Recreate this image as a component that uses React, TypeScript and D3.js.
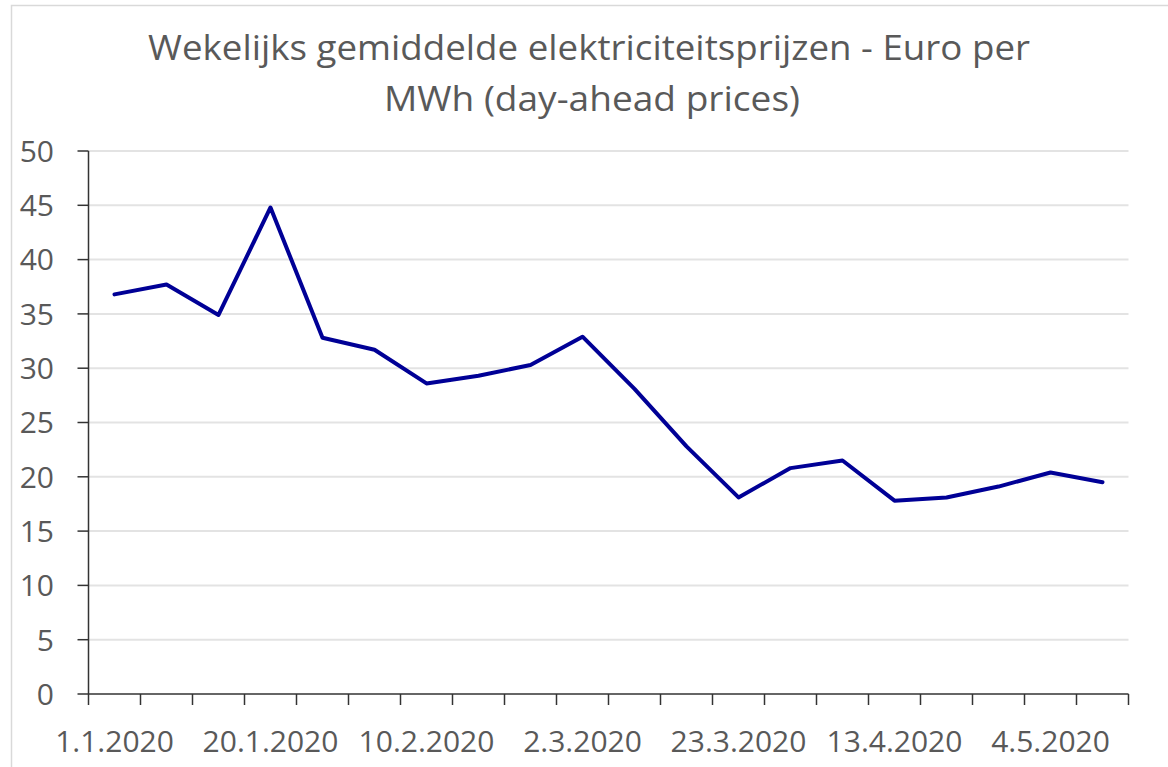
import React from "react";
import * as d3 from "d3";

const categories = [
  "1.1.2020", "6.1.2020", "13.1.2020", "20.1.2020", "27.1.2020", "3.2.2020", "10.2.2020",
  "17.2.2020", "24.2.2020", "2.3.2020", "9.3.2020", "16.3.2020", "23.3.2020", "30.3.2020",
  "6.4.2020", "13.4.2020", "20.4.2020", "27.4.2020", "4.5.2020", "11.5.2020",
];
const prices = [
  36.8, 37.7, 34.9, 44.8, 32.8, 31.7, 28.6, 29.3, 30.3, 32.9,
  28.1, 22.8, 18.1, 20.8, 21.5, 17.8, 18.1, 19.1, 20.4, 19.5,
];
const yTicks = [0, 5, 10, 15, 20, 25, 30, 35, 40, 45, 50];
const titleLines = ["Wekelijks gemiddelde elektriciteitsprijzen - Euro per", "MWh (day-ahead prices)"];

const W = 1168;
const H = 767;
const left = 88.5;
const right = 1128.5;
const top = 151;
const bottom = 694;

export default function App() {
  const x = d3.scaleBand<string>().domain(categories).range([left, right]).paddingInner(0).paddingOuter(0);
  const y = d3.scaleLinear().domain([0, 50]).range([bottom, top]);
  const line = d3
    .line<number>()
    .x((_, i) => (x(categories[i]) as number) + x.bandwidth() / 2)
    .y((d) => y(d));
  const font = "'Open Sans', 'Noto Sans', sans-serif";
  const textColor = "#595959";
  const tickEdges = categories.map((c) => x(c) as number).concat([right]);

  return (
    <svg
      width={W}
      height={H}
      style={{ position: "fixed", left: 0, top: 0, background: "#fff" }}
      fontFamily={font}
    >
      <rect x={11.5} y={5.5} width={W + 20} height={H + 20} fill="#fff" stroke="#d9d9d9" strokeWidth={1.5} />
      <text x={589} y={60} textAnchor="middle" fontSize={34} fill={textColor} textLength={882} lengthAdjust="spacingAndGlyphs">
        {titleLines[0]}
      </text>
      <text x={592} y={111} textAnchor="middle" fontSize={34} fill={textColor} textLength={416} lengthAdjust="spacingAndGlyphs">
        {titleLines[1]}
      </text>
      {yTicks.map((t) =>
        t === 0 ? null : (
          <line key={"g" + t} x1={left} x2={right} y1={y(t)} y2={y(t)} stroke="#e3e3e3" strokeWidth={2} />
        )
      )}
      {yTicks.map((t) => (
        <g key={"y" + t}>
          <line x1={left - 11} x2={left} y1={y(t)} y2={y(t)} stroke="#333" strokeWidth={1.5} />
          <text x={54} y={y(t)} dy="0.36em" textAnchor="end" fontSize={30} fill={textColor}>
            {t}
          </text>
        </g>
      ))}
      <line x1={left} x2={left} y1={top} y2={bottom} stroke="#333" strokeWidth={1.5} />
      <line x1={left} x2={right} y1={bottom} y2={bottom} stroke="#333" strokeWidth={1.5} />
      {tickEdges.map((e, i) => (
        <line key={"xt" + i} x1={e} x2={e} y1={bottom} y2={bottom + 11} stroke="#333" strokeWidth={1.5} />
      ))}
      {categories.map((c, i) =>
        i % 3 === 0 ? (
          <text
            key={"xl" + i}
            x={(x(c) as number) + x.bandwidth() / 2}
            y={752}
            textAnchor="middle"
            fontSize={30}
            fill={textColor}
          >
            {c}
          </text>
        ) : null
      )}
      <path d={line(prices) || ""} fill="none" stroke="#000096" strokeWidth={4} strokeLinejoin="round" strokeLinecap="round" />
    </svg>
  );
}
